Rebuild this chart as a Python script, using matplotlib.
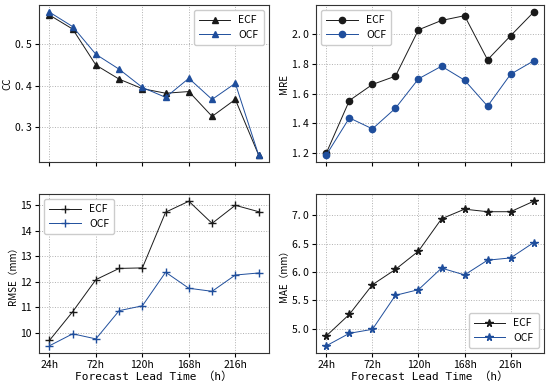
import numpy as np
import matplotlib
matplotlib.use("Agg")
import matplotlib.pyplot as plt

plt.rcParams['font.family'] = ['Noto Sans CJK SC', 'DejaVu Sans']
plt.rcParams['axes.unicode_minus'] = False

lead = [24, 48, 72, 96, 120, 144, 168, 192, 216, 240]
tick_hours = [24, 72, 120, 168, 216]
tick_labels = ["24h", "72h", "120h", "168h", "216h"]

cc_ecf = [0.571, 0.537, 0.450, 0.416, 0.393, 0.382, 0.386, 0.326, 0.367, 0.233]
cc_ocf = [0.578, 0.543, 0.476, 0.440, 0.396, 0.372, 0.418, 0.367, 0.406, 0.233]

mre_ecf = [1.200, 1.553, 1.661, 1.717, 2.029, 2.092, 2.124, 1.827, 1.989, 2.148]
mre_ocf = [1.187, 1.436, 1.362, 1.501, 1.699, 1.784, 1.690, 1.515, 1.730, 1.820]

rmse_ecf = [9.69, 10.82, 12.08, 12.52, 12.54, 14.73, 15.16, 14.29, 15.00, 14.75]
rmse_ocf = [9.48, 9.95, 9.75, 10.86, 11.05, 12.37, 11.74, 11.62, 12.26, 12.34]

mae_ecf = [4.875, 5.255, 5.777, 6.047, 6.37, 6.94, 7.11, 7.065, 7.065, 7.25]
mae_ocf = [4.70, 4.92, 4.99, 5.59, 5.69, 6.07, 5.95, 6.21, 6.25, 6.52]

c_ecf = "#1a1a1a"
c_ocf = "#1f4e9c"

fig = plt.figure(figsize=(5.5, 3.84), dpi=100)
W, H = 550, 384
boxes = [(39, 5, 269, 162), (316, 5, 544, 162), (39, 194, 269, 353), (316, 194, 544, 353)]
axes = []
for (l, t, r, b) in boxes:
    axes.append(fig.add_axes([l / W, 1 - b / H, (r - l) / W, (b - t) / H]))

panels = [
    (cc_ecf, cc_ocf, "^", 5, "CC", "upper right", [0.3, 0.4, 0.5], ["0. 3", "0. 4", "0. 5"]),
    (mre_ecf, mre_ocf, "o", 4.5, "MRE", "upper left", [1.2, 1.4, 1.6, 1.8, 2.0], ["1. 2", "1. 4", "1. 6", "1. 8", "2. 0"]),
    (rmse_ecf, rmse_ocf, "+", 5.5, "RMSE（mm）", "upper left", [10, 11, 12, 13, 14, 15], None),
    (mae_ecf, mae_ocf, "*", 5.5, "MAE（mm）", "lower right", [5.0, 5.5, 6.0, 6.5, 7.0], ["5. 0", "5. 5", "6. 0", "6. 5", "7. 0"]),
]

for i, (ax, (e, o, mk, ms, ylab, loc, yt, ytl)) in enumerate(zip(axes, panels)):
    ax.plot(lead, e, color=c_ecf, marker=mk, ms=ms, lw=0.7, label="ECF")
    ax.plot(lead, o, color=c_ocf, marker=mk, ms=ms, lw=0.7, label="OCF")
    ax.set_xticks(tick_hours)
    if i >= 2:
        ax.set_xticklabels(tick_labels)
        ax.set_xlabel("Forecast Lead Time （h）", fontsize=8,
                      family=['DejaVu Sans Mono', 'Noto Sans CJK SC'], labelpad=1)
    else:
        ax.set_xticklabels([])
    ax.set_yticks(yt)
    if ytl is not None:
        ax.set_yticklabels(ytl)
    ax.set_ylabel(ylab, fontsize=7, labelpad=2)
    ax.tick_params(labelsize=7.5, length=3, width=0.8, pad=2)
    ax.grid(True, linestyle=":", color="#b0b0b0", lw=0.7)
    for s in ax.spines.values():
        s.set_color("#333333")
        s.set_linewidth(0.8)
    ax.legend(loc=loc, fontsize=7.5, handlelength=3.0, borderpad=0.5,
              labelspacing=0.4, framealpha=1, edgecolor="#cccccc", fancybox=True)

fig.savefig("out.png", dpi=100)
